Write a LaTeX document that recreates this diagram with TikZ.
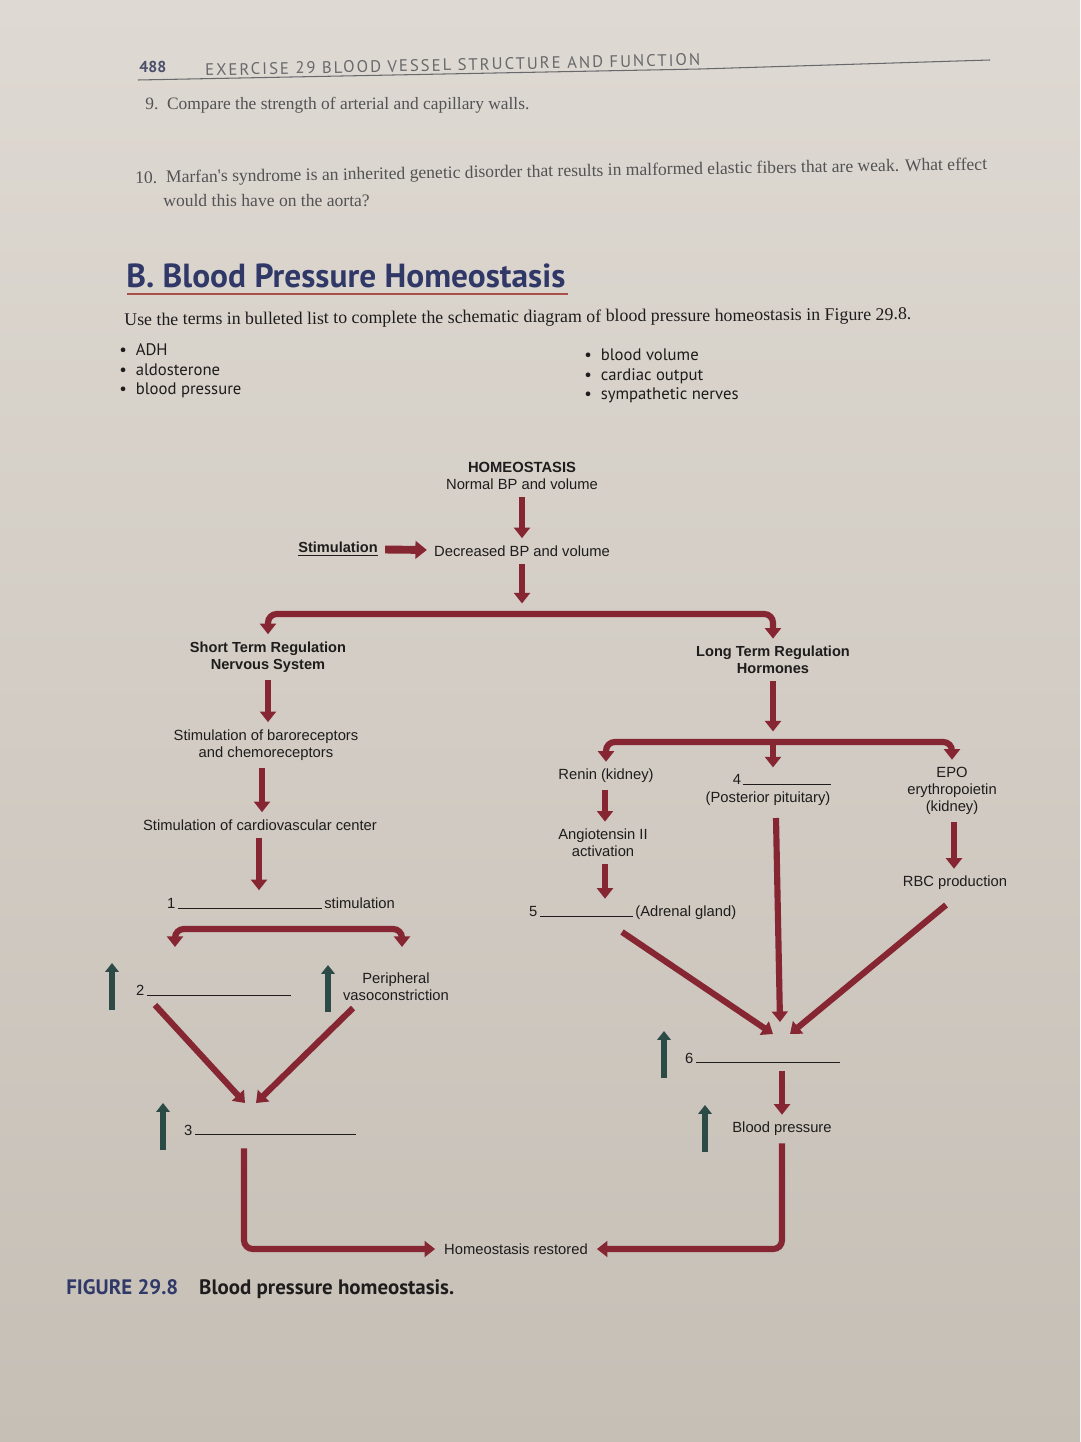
\documentclass[tikz,border=0pt]{standalone}
\usepackage{fontspec}
\setmainfont{Liberation Sans}
\newfontfamily\bookfont{Liberation Serif}
\newfontfamily\labfont{PT Sans}
\newfontfamily\capsfont[LetterSpace=12]{PT Sans}
\usetikzlibrary{arrows.meta,positioning,calc}

\definecolor{paperhi}{RGB}{222,217,210}
\definecolor{paperlo}{RGB}{198,191,182}
\definecolor{bpred}{RGB}{134,38,50}
\definecolor{bpgreen}{RGB}{44,74,70}
\definecolor{navy}{RGB}{48,56,104}
\definecolor{ink}{RGB}{30,28,28}
\definecolor{pale}{RGB}{105,105,108}
\definecolor{rulered}{RGB}{170,80,72}

\tikzset{
  redarrow/.style={draw=bpred,line width=3.5pt,-{Triangle[width=9pt,length=6pt]},shorten <=3pt,shorten >=3pt},
  redfork/.style={redarrow,{Triangle[width=9pt,length=6pt]}-{Triangle[width=9pt,length=6pt]},rounded corners=5pt},
  greenarrow/.style={draw=bpgreen,line width=3.3pt,-{Triangle[width=7.5pt,length=5pt]}},
  txt/.style={align=center,text=ink,inner sep=1pt,font=\fontsize{8.4}{9.8}\selectfont},
  headtxt/.style={txt,font=\fontsize{8.3}{9.8}\selectfont\bfseries},
  blank/.style={txt,anchor=west},
  page/.style={anchor=west,inner sep=0pt},
}

\begin{document}
\begin{tikzpicture}[x=0.02cm,y=-0.02cm]
    \shade[top color=paperhi,bottom color=paperlo] (0,0) rectangle (1080,1442);
    \useasboundingbox (0,0) rectangle (1080,1442);

    \node[page,text=navy!55!pale,font=\labfont\bfseries\fontsize{9}{10}\selectfont] (pgno) at (139,67) {488};
    \node[page,rotate=1.2,text=pale,font=\capsfont\fontsize{9.5}{11}\selectfont] (exer) at (205,70) {EXERCISE 29 BLOOD VESSEL STRUCTURE AND FUNCTION};
    \draw[pale,line width=0.6pt] (138,80) -- (700,69) -- (990,60);

    \node[page,text=pale!70!ink,font=\bookfont\fontsize{9.9}{11}\selectfont] (q9) at (145,105) {9.\enspace Compare the strength of arterial and capillary walls.};
    \node[page,rotate=0.9,text=pale!70!ink,font=\bookfont\fontsize{10}{12}\selectfont] (q10) at (135,179) {10.\enspace Marfan's syndrome is an inherited genetic disorder that results in malformed elastic fibers that are weak. What effect};
    \node[page,text=pale!70!ink,font=\bookfont\fontsize{10}{12}\selectfont] (q10b) at (163,201) {would this have on the aorta?};

    \node[page,text=navy,font=\labfont\bfseries\fontsize{19}{20}\selectfont] (title) at (126,276) {B.\ Blood Pressure Homeostasis};
    \draw[rulered,line width=1pt] (127,294) -- (568,294);
    \node[page,rotate=0.4,text=ink,font=\bookfont\fontsize{10.15}{12}\selectfont] (intro) at (124,321) {Use the terms in bulleted list to complete the schematic diagram of blood pressure homeostasis in Figure 29.8.};

    \node[page,text=ink,font=\labfont\fontsize{9.5}{11}\selectfont,align=left] (listL) at (119,371) {\textbullet\ \ ADH\\\textbullet\ \ aldosterone\\\textbullet\ \ blood pressure};
    \node[page,text=ink,font=\labfont\fontsize{9.5}{11}\selectfont,align=left] (listR) at (584,376) {\textbullet\ \ blood volume\\\textbullet\ \ cardiac output\\\textbullet\ \ sympathetic nerves};

    \node[txt] (homeo) at (522,476) {\textbf{HOMEOSTASIS}\\Normal BP and volume};
    \node[txt] (decr) at (522,551) {Decreased BP and volume};
    \node[txt,font=\fontsize{8.3}{9.8}\selectfont\bfseries] (stim) at (338,549) {\underline{Stimulation}};
    \coordinate (split1) at (522,614);

    \node[headtxt] (short) at (268,657) {Short Term Regulation\\Nervous System};
    \node[txt] (baro) at (266,745) {Stimulation of baroreceptors\\and chemoreceptors};
    \node[txt] (cardio) at (260,825) {Stimulation of cardiovascular center};
    \node[blank] (one) at (165,903) {1\,\rule{82pt}{0.35pt}\,stimulation};
    \coordinate (split2) at (288,929);
    \coordinate (tip2L) at (175,947);
    \coordinate (tip2R) at (402,947);
    \node[blank] (two) at (134,990) {2\,\rule{82pt}{0.35pt}};
    \node[txt] (periph) at (396,987) {Peripheral\\vasoconstriction};
    \node[blank] (three) at (182,1130) {3\,\rule{92pt}{0.35pt}};
    \coordinate (vL) at (155,1005);
    \coordinate (vR) at (353,1008);
    \coordinate (v2L) at (245,1103);
    \coordinate (v2R) at (256,1103);
    \coordinate (out3) at (244,1143);

    \node[headtxt] (longreg) at (773,660) {Long Term Regulation\\Hormones};
    \coordinate (split3) at (773,742);
    \node[txt] (renin) at (606,776) {Renin (kidney)};
    \node[txt] (four) at (768,790) {\hspace*{16pt}4\,\rule{50pt}{0.35pt}\\(Posterior pituitary)};
    \node[txt] (epo) at (952,791) {EPO\\erythropoietin\\(kidney)};
    \node[txt] (angio) at (603,843) {Angiotensin II\\activation};
    \node[blank] (five) at (527,913) {5\,\rule{53pt}{0.35pt}\,(Adrenal gland)};
    \node[txt] (rbc) at (955,883) {RBC production};
    \coordinate (fromfive) at (622,932);
    \coordinate (fromfour) at (776,818);
    \coordinate (fromrbc) at (946,905);
    \coordinate (jL) at (773,1034);
    \coordinate (jM) at (780,1022);
    \coordinate (jR) at (790,1034);
    \node[blank] (six) at (683,1058) {6\,\rule{82pt}{0.35pt}};
    \node[txt] (bpress) at (782,1129) {Blood pressure};
    \node[txt] (restored) at (516,1249) {Homeostasis restored};

    \node[page,font=\labfont\bfseries\fontsize{11.9}{13}\selectfont] (fig) at (66,1289) {\textcolor{navy}{FIGURE 29.8}\quad\textcolor{ink}{Blood pressure homeostasis.}};

    \draw[redarrow] (homeo) -- (decr);
    \draw[redarrow,line width=4.5pt,-{Triangle[width=10pt,length=6.5pt]}] (stim) -- (decr);
    \draw[redarrow,shorten >=6pt] (decr) -- (split1);
    \draw[redfork] (short.north) |- (split1) -| (longreg.north);

    \draw[redarrow] (short.south) -- (short.south |- baro.north);
    \draw[redarrow] (baro.south -| 262,0) -- (cardio.north -| 262,0);
    \draw[redarrow] (cardio.south -| 259,0) -- (one.north -| 259,0);
    \draw[redfork,shorten <=0pt,shorten >=0pt] (tip2L) |- (split2) -| (tip2R);
    \draw[redarrow,shorten <=0pt,shorten >=0pt] (vL) -- (v2L);
    \draw[redarrow,shorten <=0pt,shorten >=0pt] (vR) -- (v2R);
    \draw[redarrow,shorten >=4pt,rounded corners=5pt] (out3) |- (restored.west);

    \draw[redarrow,shorten >=6pt] (longreg) -- (split3);
    \draw[redfork] (renin.north) |- (split3) -| (epo.north);
    \draw[redarrow,shorten <=0pt] (split3) -- (four.north -| split3);
    \draw[redarrow] (renin.south -| 605,0) -- (angio.north -| 605,0);
    \draw[redarrow] (angio.south -| 605,0) -- (five.north -| 605,0);
    \draw[redarrow] (epo.south -| 954,0) -- (rbc.north -| 954,0);
    \draw[redarrow,shorten <=0pt,shorten >=0pt] (fromfive) -- (jL);
    \draw[redarrow,shorten <=0pt,shorten >=0pt] (fromfour) -- (jM);
    \draw[redarrow,shorten <=0pt,shorten >=0pt] (fromrbc) -- (jR);
    \draw[redarrow] (six.south -| bpress.north) -- (bpress.north);
    \draw[redarrow,shorten >=4pt,rounded corners=5pt] (bpress.south) |- (restored.east);

    \foreach \x/\y in {112/1010, 328/1012, 163/1150, 664/1078, 705/1152}
        \draw[greenarrow] (\x,\y) -- ++(0,-47);
\end{tikzpicture}
\end{document}
